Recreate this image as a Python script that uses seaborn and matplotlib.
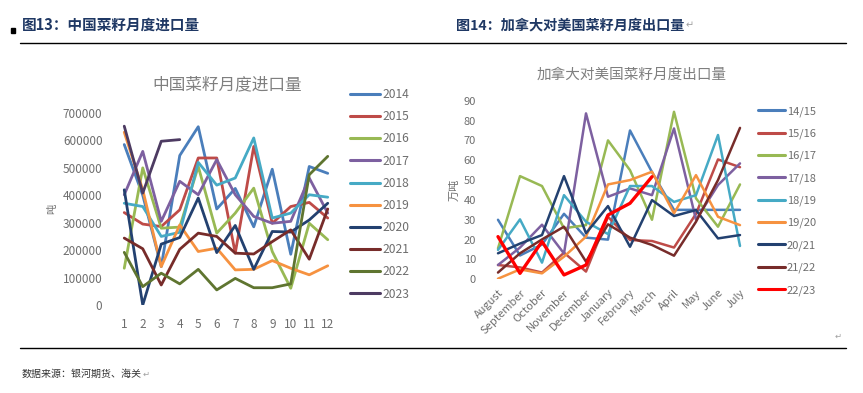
import matplotlib
matplotlib.use('Agg')
import matplotlib.pyplot as plt
import pandas as pd
import seaborn as sns

# ---- data: China monthly rapeseed imports (tonnes), months 1..12
months = list(range(1, 13))
imp_years = ['2014', '2015', '2016', '2017', '2018', '2019', '2020', '2021', '2022', '2023']
imp_2014 = [585000, 400000, 140000, 545000, 650000, 350000, 425000, 285000, 495000, 185000, 505000, 480000]
imp_2015 = [337000, 295000, 286000, 347000, 536000, 536000, 189000, 578000, 298000, 359000, 374000, 317000]
imp_2016 = [134000, 500000, 280000, 284000, 505000, 262000, 335000, 426000, 195000, 61000, 298000, 238000]
imp_2017 = [402000, 560000, 305000, 451000, 402000, 530000, 402000, 323000, 298000, 305000, 463000, 335000]
imp_2018 = [371000, 359000, 250000, 265000, 520000, 437000, 463000, 609000, 317000, 335000, 402000, 393000]
imp_2019 = [630000, 420000, 140000, 292000, 195000, 207000, 128000, 130000, 162000, 134000, 110000, 143000]
imp_2020 = [420000, 0, 222000, 246000, 390000, 191000, 290000, 130000, 268000, 266000, 310000, 371000]
imp_2021 = [244000, 205000, 73000, 203000, 262000, 250000, 189000, 186000, 231000, 274000, 167000, 350000]
imp_2022 = [192000, 67000, 116000, 77000, 130000, 55000, 97000, 63000, 63000, 77000, 475000, 542000]
imp_2023 = [652000, 408000, 597000, 603000]
imp_values = [imp_2014, imp_2015, imp_2016, imp_2017, imp_2018,
              imp_2019, imp_2020, imp_2021, imp_2022, imp_2023]

# ---- data: Canada rapeseed exports to US (10k tonnes), crop year Aug..Jul
crop_months = ['August', 'September', 'October', 'November', 'December', 'January',
               'February', 'March', 'April', 'May', 'June', 'July']
exp_seasons = ['14/15', '15/16', '16/17', '17/18', '18/19', '19/20', '20/21', '21/22', '22/23']
exp_1415 = [30, 12, 17.5, 33, 21, 20, 75, 54, 35, 35, 35, 35]
exp_1516 = [7.2, 6, 3.4, 13.4, 3.9, 31.5, 19.8, 19.3, 16, 33, 60.4, 56.5]
exp_1617 = [15.6, 52, 47, 25.7, 27.3, 70, 55, 30, 84.4, 40.8, 26.5, 47.8]
exp_1718 = [7.2, 16, 27.5, 13, 83.6, 41.6, 45.8, 42.4, 76, 30, 47.5, 58.4]
exp_1819 = [14.8, 30.2, 8.4, 42.4, 29, 22.8, 47, 47, 39, 42.4, 72.7, 16.8]
exp_1920 = [0.3, 5, 3, 11.4, 21.5, 47.8, 50, 54.2, 33.2, 52.5, 31.5, 27.3]
exp_2021 = [13.1, 18, 22.3, 52, 23.2, 36.9, 16.4, 39.9, 31.9, 34.9, 20.6, 22.3]
exp_2122 = [3.4, 13.1, 20.1, 26.5, 8.9, 27.7, 21, 17.3, 11.9, 29, 50, 76.3]
exp_2223 = [21.5, 3, 19, 2.2, 7.2, 32.4, 38.3, 51.7]
exp_values = [exp_1415, exp_1516, exp_1617, exp_1718, exp_1819,
              exp_1920, exp_2021, exp_2122, exp_2223]

base_colors = ['#4A7EBB', '#BE4B48', '#98B954', '#7D60A0', '#46AAC5',
               '#F69240', '#234170', '#772C2A', '#5F7530', '#4D3B62']
imp_palette = dict(zip(imp_years, base_colors))
exp_palette = dict(zip(exp_seasons, base_colors[:8] + ['#FF0000']))

# long tables for seaborn
imp_df = pd.DataFrame([(yr, m, v) for yr, vals in zip(imp_years, imp_values)
                       for m, v in zip(months, vals)], columns=['year', 'month', 'value'])
exp_df = pd.DataFrame([(s, i, v) for s, vals in zip(exp_seasons, exp_values)
                       for i, v in enumerate(vals)], columns=['season', 'idx', 'value'])

sns.set_theme(style='white')
plt.rcParams['font.family'] = ['Noto Sans CJK SC', 'DejaVu Sans']
grey = '#6E6E6E'
title_grey = '#7F7F7F'

W, H = 863, 393
fig = plt.figure(figsize=(W / 100, H / 100), dpi=100)
fig.patch.set_facecolor('white')


def px_axes(x0, y_top, x1, y_bot):
    return fig.add_axes([x0 / W, 1 - y_bot / H, (x1 - x0) / W, (y_bot - y_top) / H])


def return_mark(txt, size):
    # small grey paragraph mark right after a text, like in the Word page
    fig.canvas.draw()
    bb = txt.get_window_extent()
    x, y = txt.get_position()
    fig.text(bb.x1 / W + 1 / W, y, '↵', ha='left', va='center', fontsize=size,
             color='#A0A0A0', family='DejaVu Sans')


# ---- left chart
ax1 = px_axes(115, 113, 337, 305)
sns.lineplot(data=imp_df, x='month', y='value', hue='year', palette=imp_palette,
             hue_order=imp_years, linewidth=2.0, ax=ax1, legend=False, sort=False)
ax1.set_xlim(0.5, 12.5)
ax1.set_ylim(0, 700000)
ax1.set_xticks(months)
ax1.set_xticklabels([str(m) for m in months])
yt = list(range(0, 700001, 100000))
ax1.set_yticks(yt)
ax1.set_yticklabels([str(v) for v in yt])
ax1.tick_params(axis='both', length=0, labelsize=8.5, colors=grey)
ax1.tick_params(axis='y', pad=9)
ax1.tick_params(axis='x', pad=9)
ax1.set_xlabel('')
ax1.set_ylabel('吨', color=grey, fontsize=7.5, labelpad=4)
for s in ax1.spines.values():
    s.set_visible(False)
h1 = [plt.Line2D([], [], color=imp_palette[y], lw=2.2) for y in imp_years]
fig.legend(h1, imp_years, loc='upper left', bbox_to_anchor=(350 / W, 1 - 88 / H),
           frameon=False, fontsize=8.7, labelcolor=grey, handlelength=2.5,
           handletextpad=0.2, labelspacing=0.76, borderpad=0, borderaxespad=0)
fig.text(227 / W, 1 - 85 / H, '中国菜籽月度进口量', ha='center', va='center',
         fontsize=12, color=title_grey)

# ---- right chart
ax2 = px_axes(487, 100.7, 751, 279.3)
sns.lineplot(data=exp_df[exp_df.season != '22/23'], x='idx', y='value', hue='season',
             palette=exp_palette, hue_order=exp_seasons[:8], linewidth=1.8, ax=ax2,
             legend=False, sort=False)
sns.lineplot(data=exp_df[exp_df.season == '22/23'], x='idx', y='value',
             color=exp_palette['22/23'], linewidth=2.4, ax=ax2, legend=False, sort=False)
ax2.set_xlim(-0.5, 11.5)
ax2.set_ylim(0, 90)
ax2.set_xticks(range(12))
ax2.set_xticklabels(crop_months, rotation=45, ha='right', va='top', rotation_mode='anchor')
ax2.set_yticks(range(0, 91, 10))
ax2.tick_params(axis='both', length=0, labelsize=8, colors=grey)
ax2.tick_params(axis='y', pad=8)
ax2.tick_params(axis='x', pad=6)
ax2.set_xlabel('')
ax2.set_ylabel('万吨', color=grey, fontsize=8, labelpad=3)
for s in ax2.spines.values():
    s.set_visible(False)
h2 = [plt.Line2D([], [], color=exp_palette[s], lw=2.2) for s in exp_seasons]
fig.legend(h2, exp_seasons, loc='upper left', bbox_to_anchor=(758 / W, 1 - 106 / H),
           frameon=False, fontsize=8, labelcolor=grey, handlelength=2.4,
           handletextpad=0.2, labelspacing=1.07, borderpad=0, borderaxespad=0)
fig.text(632 / W, 1 - 75 / H, '加拿大对美国菜籽月度出口量', ha='center', va='center',
         fontsize=10.5, color=title_grey)

# ---- document frame: headings, rules, source
navy = '#1F3864'
fig.text(22 / W, 1 - 25 / H, '图13：中国菜籽月度进口量', ha='left', va='center',
         fontsize=10.5, color=navy, fontweight='bold')
t14 = fig.text(456 / W, 1 - 25 / H, '图14：加拿大对美国菜籽月度出口量', ha='left',
               va='center', fontsize=10.2, color=navy, fontweight='bold')
return_mark(t14, 7)
fig.patches.append(plt.Rectangle((11 / W, 1 - 33 / H), 4 / W, 5 / H, color='black',
                                 transform=fig.transFigure, figure=fig))
fig.add_artist(plt.Line2D([20 / W, 846 / W], [1 - 43 / H, 1 - 43 / H], color='black', lw=1.0))
fig.add_artist(plt.Line2D([20 / W, 846 / W], [1 - 348 / H, 1 - 348 / H], color='black', lw=1.0))
fig.text(838 / W, 1 - 336 / H, '↵', ha='center', va='center', fontsize=6,
         color='#A0A0A0', family='DejaVu Sans')
src = fig.text(22 / W, 1 - 374 / H, '数据来源：银河期货、海关', ha='left', va='center',
               fontsize=7.2, color='#333333')
return_mark(src, 6)

fig.savefig('out.png', dpi=100)
